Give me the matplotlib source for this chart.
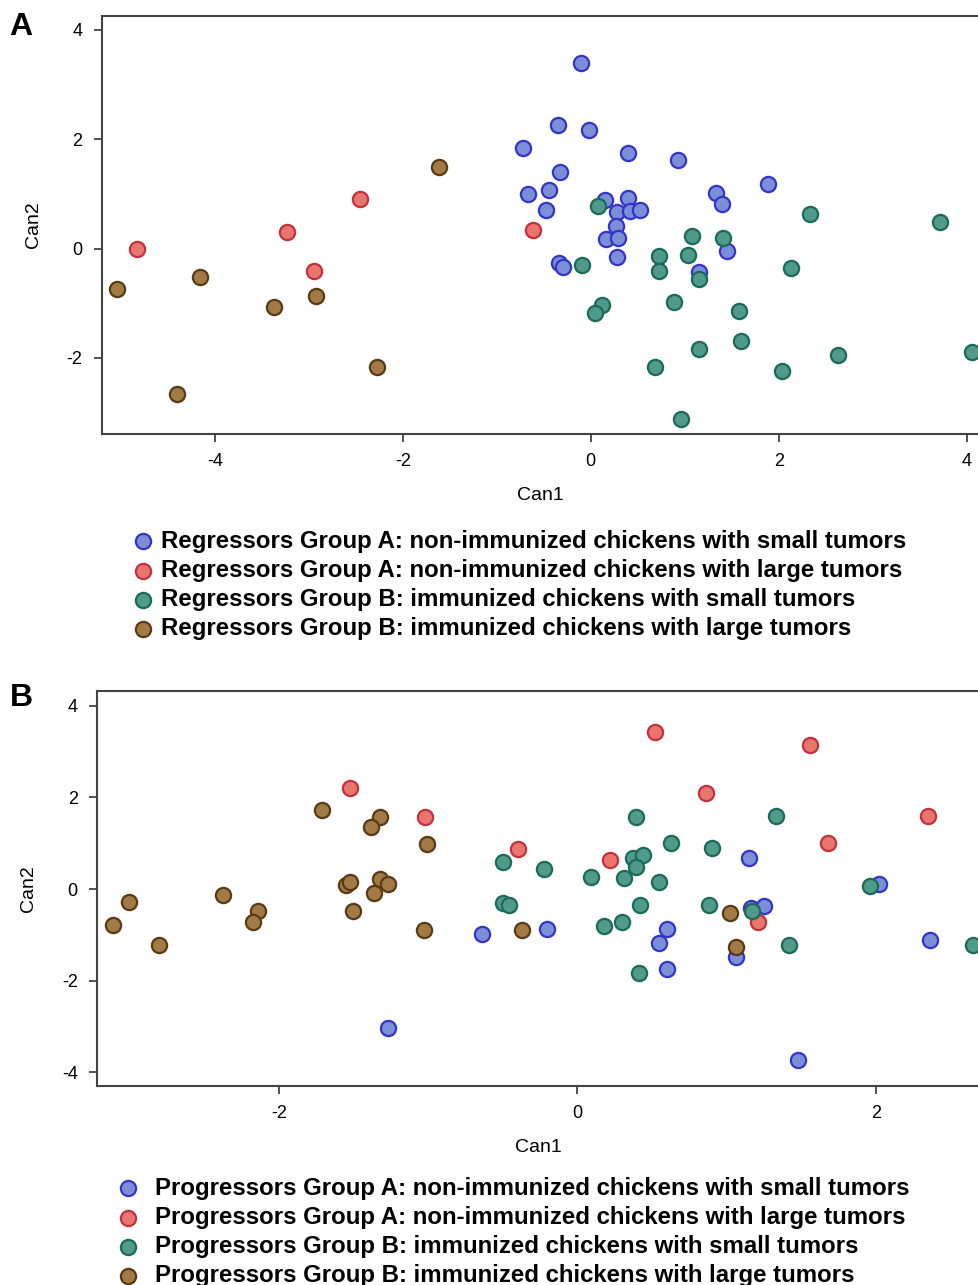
import matplotlib
matplotlib.use('Agg')
import matplotlib.pyplot as plt

plt.rcParams['font.family'] = 'Liberation Sans'
plt.rcParams['axes.unicode_minus'] = False

# ---- Panel A: regressors (Can1, Can2) ----
a_blue_x = [-0.10, -0.35, -0.02, -0.72, 0.40, 0.93, -0.33, 1.88, -0.44, -0.67, 1.33, 1.40, 0.15,
            0.40, -0.48, 0.28, 0.42, 0.52, 0.27, 0.16, 0.29, 1.45, -0.34, -0.30, 0.28, 1.15]
a_blue_y = [3.40, 2.25, 2.17, 1.84, 1.75, 1.62, 1.39, 1.18, 1.07, 0.99, 1.02, 0.82, 0.88,
            0.93, 0.71, 0.66, 0.69, 0.71, 0.41, 0.17, 0.19, -0.05, -0.27, -0.34, -0.16, -0.43]
a_red_x = [-4.83, -3.23, -2.94, -2.45, -0.62]
a_red_y = [0.00, 0.30, -0.41, 0.90, 0.33]
a_teal_x = [0.08, 2.33, 3.72, 1.08, 1.41, 0.73, 1.03, -0.09, 0.73, 2.13, 1.15,
            0.12, 0.05, 0.88, 1.58, 1.60, 1.15, 0.68, 2.03, 2.63, 4.06, 0.96]
a_teal_y = [0.77, 0.63, 0.49, 0.22, 0.19, -0.13, -0.11, -0.30, -0.41, -0.35, -0.55,
            -1.04, -1.18, -0.98, -1.15, -1.69, -1.83, -2.16, -2.24, -1.94, -1.89, -3.12]
a_brown_x = [-5.04, -4.16, -2.92, -1.62, -3.37, -4.40, -2.27]
a_brown_y = [-0.74, -0.52, -0.87, 1.49, -1.07, -2.66, -2.16]

# ---- Panel B: progressors ----
b_blue_x = [-0.64, -1.27, 1.15, 2.02, 1.16, 1.25, -0.20, 0.60, 0.55, 1.06, 2.36, 0.60, 1.48]
b_blue_y = [-0.97, -3.03, 0.67, 0.12, -0.42, -0.37, -0.87, -0.87, -1.18, -1.49, -1.12, -1.74, -3.72]
b_red_x = [-1.52, -1.02, 0.52, 1.56, 0.86, 2.35, 1.68, -0.40, 0.22, 1.21]
b_red_y = [2.20, 1.57, 3.43, 3.15, 2.10, 1.60, 1.01, 0.87, 0.64, -0.72]
b_teal_x = [-0.50, -0.50, -0.46, 0.39, 1.33, 0.63, 0.90, 0.37, 0.44, 0.39, -0.22, 0.09,
            0.31, 0.55, 1.96, 0.42, 0.88, 1.17, 0.18, 0.30, 1.42, 2.65, 0.41]
b_teal_y = [0.58, -0.31, -0.35, 1.57, 1.60, 1.01, 0.89, 0.68, 0.74, 0.48, 0.43, 0.27,
            0.24, 0.15, 0.06, -0.34, -0.34, -0.47, -0.81, -0.72, -1.21, -1.21, -1.83]
b_brown_x = [-1.71, -1.32, -1.38, -1.01, -1.55, -1.52, -1.32, -1.27, -1.36, -1.50,
             -2.37, -2.14, -2.17, -3.00, -3.11, -2.80, -1.03, 1.02, -0.37, 1.06]
b_brown_y = [1.72, 1.57, 1.36, 0.99, 0.09, 0.16, 0.22, 0.12, -0.09, -0.47,
             -0.13, -0.47, -0.72, -0.28, -0.79, -1.21, -0.90, -0.53, -0.90, -1.27]

labels_a = ['Regressors Group A: non-immunized chickens with small tumors',
            'Regressors Group A: non-immunized chickens with large tumors',
            'Regressors Group B: immunized chickens with small tumors',
            'Regressors Group B: immunized chickens with large tumors']
labels_b = ['Progressors Group A: non-immunized chickens with small tumors',
            'Progressors Group A: non-immunized chickens with large tumors',
            'Progressors Group B: immunized chickens with small tumors',
            'Progressors Group B: immunized chickens with large tumors']

fills = ['#7b8ed8', '#e8766e', '#4f9a8a', '#a27a45']
edges = ['#3434c8', '#c4303c', '#1c6a58', '#5a3a14']

fig = plt.figure(figsize=(9.79, 12.85), dpi=100)
ax1 = fig.add_axes([102 / 979, 1 - 434 / 1285, 1 - 102 / 979, (434 - 16) / 1285])
ax2 = fig.add_axes([97.3 / 979, 1 - 1085.7 / 1285, 1 - 97.3 / 979, (1085.7 - 691) / 1285])


def draw(ax, groups, labels, xlim, ylim, xticks, yticks, leg_anchor, textpad, ylabpad):
    for (gx, gy), lab, fc, ec in zip(groups, labels, fills, edges):
        ax.scatter(gx, gy, s=120, facecolor=fc, edgecolor=ec, linewidth=1.6,
                   label=lab, zorder=3)
    ax.set_xlim(*xlim)
    ax.set_ylim(*ylim)
    ax.set_xticks(xticks)
    ax.set_yticks(yticks)
    ax.spines['right'].set_visible(False)
    for s in ['left', 'top', 'bottom']:
        ax.spines[s].set_color('#444444')
        ax.spines[s].set_linewidth(1.5)
    ax.tick_params(direction='out', length=6, width=1.3, color='#444444',
                   labelsize=13, pad=8)
    ax.set_xlabel('Can1', fontsize=14, labelpad=12)
    ax.set_ylabel('Can2', fontsize=14, labelpad=ylabpad)
    ax.legend(loc='upper left', bbox_to_anchor=leg_anchor, bbox_transform=fig.transFigure,
              frameon=False, handlelength=0.8, handletextpad=textpad, labelspacing=0.26,
              borderaxespad=0, prop={'size': 17.3, 'weight': 'bold'})


draw(ax1, [(a_blue_x, a_blue_y), (a_red_x, a_red_y), (a_teal_x, a_teal_y), (a_brown_x, a_brown_y)],
     labels_a, (-5.2, 4.13), (-3.39, 4.25), [-4, -2, 0, 2, 4], [-2, 0, 2, 4],
     (124 / 979, 1 - 520 / 1285), 0.32, 18)
draw(ax2, [(b_blue_x, b_blue_y), (b_red_x, b_red_y), (b_teal_x, b_teal_y), (b_brown_x, b_brown_y)],
     labels_b, (-3.215, 2.69), (-4.29, 4.32), [-2, 0, 2], [-4, -2, 0, 2, 4],
     (109 / 979, 1 - 1167 / 1285), 0.7, 18)

fig.text(21 / 979, 1 - 27 / 1285, 'A', fontsize=23, fontweight='bold', va='center', ha='center')
fig.text(21 / 979, 1 - 698 / 1285, 'B', fontsize=23, fontweight='bold', va='center', ha='center')

fig.savefig('out.png', dpi=100)
